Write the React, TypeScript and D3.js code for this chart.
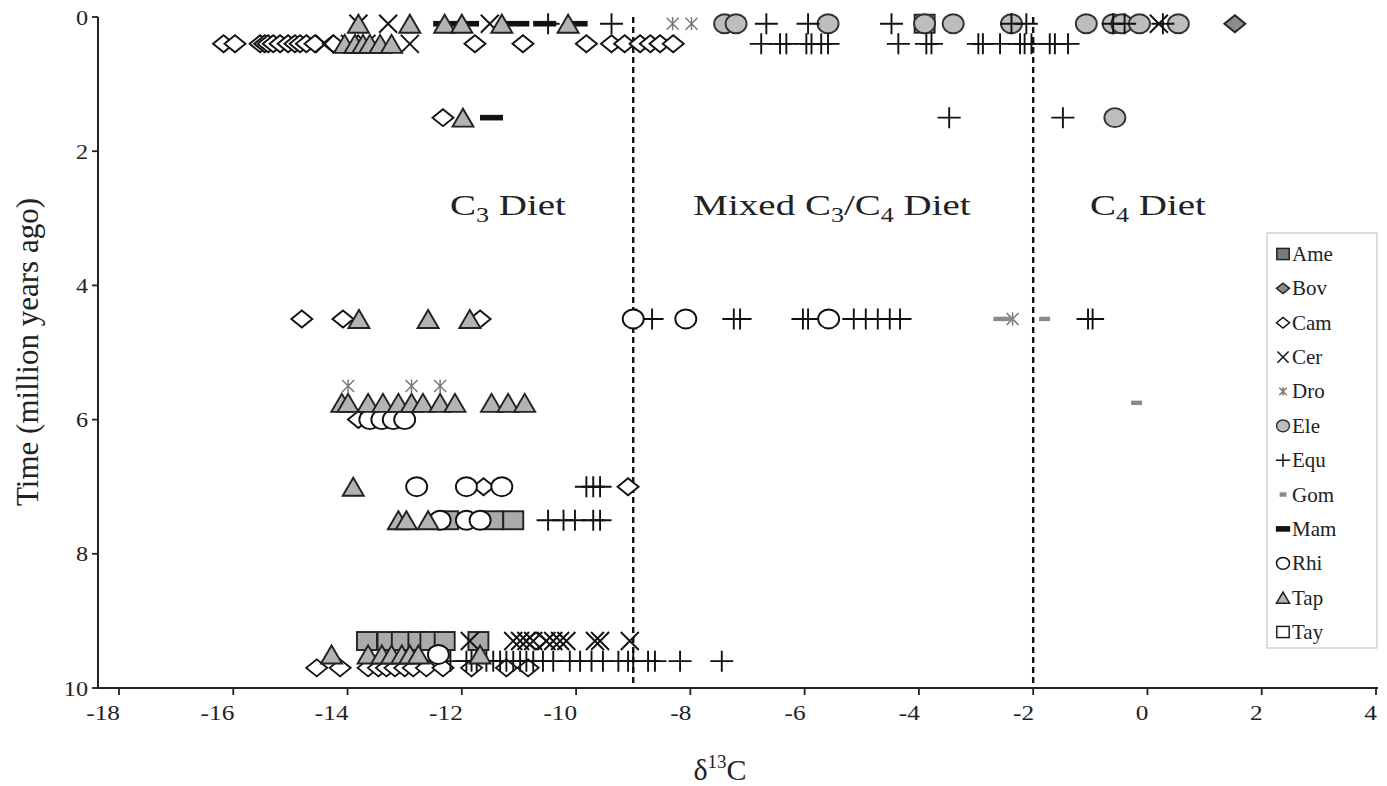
import React from "react";
import * as d3 from "d3";

type Pt = [number, number];

const seriesNames = ["Ame", "Bov", "Cam", "Cer", "Dro", "Ele", "Equ", "Gom", "Mam", "Rhi", "Tap", "Tay"];

const ame: Pt[] = [
  [-3.9, 0.1],
  [-12.24, 7.5], [-11.45, 7.5], [-11.1, 7.5],
  [-13.66, 9.3], [-13.3, 9.3], [-13.05, 9.3], [-12.76, 9.3], [-12.55, 9.3], [-12.3, 9.3], [-11.71, 9.3],
];
const bov: Pt[] = [[1.53, 0.1]];
const cam: Pt[] = [
  [-16.17, 0.4], [-15.97, 0.4], [-15.53, 0.4], [-15.45, 0.4], [-15.39, 0.4], [-15.3, 0.4], [-15.18, 0.4],
  [-15.04, 0.4], [-14.92, 0.4], [-14.83, 0.4], [-14.72, 0.4], [-14.57, 0.4], [-14.25, 0.4], [-11.77, 0.4],
  [-10.93, 0.4], [-9.82, 0.4], [-9.38, 0.4], [-9.15, 0.4], [-8.88, 0.4], [-8.7, 0.4], [-8.53, 0.4], [-8.3, 0.4],
  [-12.33, 1.5],
  [-14.8, 4.5], [-14.08, 4.5], [-11.68, 4.5],
  [-13.81, 6.0],
  [-11.62, 7.0], [-9.09, 7.0],
  [-10.7, 9.3],
  [-14.54, 9.7], [-14.13, 9.7], [-13.64, 9.7], [-13.46, 9.7], [-13.32, 9.7], [-13.17, 9.7], [-13.0, 9.7],
  [-12.85, 9.7], [-12.62, 9.7], [-12.33, 9.7], [-11.83, 9.7], [-11.22, 9.7], [-10.84, 9.7],
];
const cer: Pt[] = [
  [-13.81, 0.1], [-13.29, 0.1], [-11.51, 0.1], [0.2, 0.1],
  [-14.4, 0.4], [-13.96, 0.4], [-13.67, 0.4], [-12.91, 0.4],
  [-11.86, 9.3], [-11.1, 9.3], [-10.98, 9.3], [-10.87, 9.3], [-10.75, 9.3], [-10.52, 9.3], [-10.4, 9.3],
  [-10.28, 9.3], [-10.17, 9.3], [-9.67, 9.3], [-9.58, 9.3], [-9.06, 9.3],
];
const dro: Pt[] = [
  [-8.31, 0.1], [-7.98, 0.1],
  [-2.36, 4.5],
  [-13.99, 5.5], [-12.88, 5.5], [-12.38, 5.5],
];
const ele: Pt[] = [
  [-7.4, 0.1], [-7.2, 0.1], [-5.59, 0.1], [-3.9, 0.1], [-3.4, 0.1], [-2.38, 0.1], [-1.07, 0.1],
  [-0.6, 0.1], [-0.45, 0.1], [-0.14, 0.1], [0.54, 0.1],
  [-0.57, 1.5],
];
const equ: Pt[] = [
  [-10.49, 0.1], [-9.38, 0.1], [-6.67, 0.1], [-5.94, 0.1], [-4.48, 0.1], [-2.38, 0.1], [-2.12, 0.1],
  [-0.6, 0.1], [-0.4, 0.1], [0.27, 0.1],
  [-6.76, 0.4], [-6.43, 0.4], [-6.32, 0.4], [-5.97, 0.4], [-5.88, 0.4], [-5.71, 0.4], [-5.59, 0.4],
  [-4.36, 0.4], [-3.87, 0.4], [-3.78, 0.4], [-2.96, 0.4], [-2.88, 0.4], [-2.58, 0.4], [-2.23, 0.4],
  [-2.15, 0.4], [-2.03, 0.4], [-1.71, 0.4], [-1.62, 0.4], [-1.39, 0.4],
  [-3.47, 1.5], [-1.48, 1.5],
  [-8.95, 4.5], [-8.67, 4.5], [-7.24, 4.5], [-7.13, 4.5], [-6.03, 4.5], [-5.94, 4.5], [-5.14, 4.5],
  [-4.93, 4.5], [-4.72, 4.5], [-4.51, 4.5], [-4.33, 4.5], [-1.04, 4.5], [-0.96, 4.5],
  [-9.82, 7.0], [-9.7, 7.0], [-9.58, 7.0],
  [-10.49, 7.5], [-10.22, 7.5], [-10.02, 7.5], [-9.7, 7.5], [-9.58, 7.5],
  [-12.2, 9.6], [-11.92, 9.6], [-11.83, 9.6], [-11.74, 9.6], [-11.57, 9.6], [-11.45, 9.6], [-11.33, 9.6],
  [-11.22, 9.6], [-11.1, 9.6], [-10.98, 9.6], [-10.87, 9.6], [-10.75, 9.6], [-10.58, 9.6], [-10.4, 9.6],
  [-10.11, 9.6], [-9.93, 9.6], [-9.73, 9.6], [-9.53, 9.6], [-9.26, 9.6], [-9.09, 9.6], [-9.0, 9.6],
  [-8.74, 9.6], [-8.62, 9.6], [-8.18, 9.6], [-7.45, 9.6],
];
const gom: Pt[] = [[-2.6, 4.5], [-2.45, 4.5], [-1.8, 4.5], [-0.19, 5.75]];
const mam: Pt[] = [[-12.3, 0.1], [-11.9, 0.1], [-11.02, 0.1], [-10.55, 0.1], [-10.0, 0.1], [-11.48, 1.5]];
const rhi: Pt[] = [
  [-9.0, 4.5], [-8.08, 4.5], [-5.58, 4.5],
  [-13.61, 6.0], [-13.4, 6.0], [-13.2, 6.0], [-13.0, 6.0],
  [-12.79, 7.0], [-11.92, 7.0], [-11.3, 7.0],
  [-12.38, 7.5], [-11.92, 7.5], [-11.68, 7.5],
  [-12.41, 9.5],
];
const tap: Pt[] = [
  [-13.81, 0.1], [-12.91, 0.1], [-12.3, 0.1], [-12.0, 0.1], [-11.3, 0.1], [-10.14, 0.1],
  [-14.05, 0.4], [-13.87, 0.4], [-13.73, 0.4], [-13.61, 0.4], [-13.43, 0.4], [-13.23, 0.4],
  [-11.98, 1.5],
  [-13.8, 4.5], [-12.59, 4.5], [-11.86, 4.5],
  [-14.1, 5.75], [-13.99, 5.75], [-13.64, 5.75], [-13.38, 5.75], [-13.11, 5.75], [-12.88, 5.75],
  [-12.68, 5.75], [-12.38, 5.75], [-12.12, 5.75], [-11.48, 5.75], [-11.19, 5.75], [-10.9, 5.75],
  [-13.9, 7.0],
  [-13.11, 7.5], [-12.97, 7.5], [-12.59, 7.5],
  [-14.28, 9.5], [-13.64, 9.5], [-13.4, 9.5], [-13.23, 9.5], [-13.05, 9.5], [-12.91, 9.5], [-12.76, 9.5], [-11.68, 9.5],
];
const tay: Pt[] = [];

const xTicks = [-18, -16, -14, -12, -10, -8, -6, -4, -2, 0, 2, 4];
const yTicks = [0, 2, 4, 6, 8, 10];
const dietBounds = [-9, -2];

const GREY = "#b3b3b3";
const FONT = "'Liberation Serif', 'DejaVu Serif', serif";

function Marker({ kind, cx, cy, s = 1 }: { kind: string; cx: number; cy: number; s?: number }) {
  const sw = s < 1 ? 1.5 : 1.9;
  switch (kind) {
    case "Ame": {
      const w = 20 * s, h = 18 * s;
      return <rect x={cx - w / 2} y={cy - h / 2} width={w} height={h} fill={s < 1 ? "#7a7a7a" : "#aaa"} stroke="#222" strokeWidth={sw} />;
    }
    case "Bov": {
      const w = 10.5 * s, h = 8.5 * s;
      return <path d={`M${cx - w},${cy}L${cx},${cy - h}L${cx + w},${cy}L${cx},${cy + h}Z`} fill="#8c8c8c" stroke="#222" strokeWidth={sw} />;
    }
    case "Cam": {
      const w = 10.5 * s, h = 8.5 * s;
      return <path d={`M${cx - w},${cy}L${cx},${cy - h}L${cx + w},${cy}L${cx},${cy + h}Z`} fill="#fff" stroke="#111" strokeWidth={sw} />;
    }
    case "Cer": {
      const r = 9 * s;
      return <path d={`M${cx - r},${cy - r}L${cx + r},${cy + r}M${cx - r},${cy + r}L${cx + r},${cy - r}`} stroke="#111" strokeWidth={sw} fill="none" />;
    }
    case "Dro": {
      const r = 6 * s;
      return <path d={`M${cx - r},${cy - r}L${cx + r},${cy + r}M${cx - r},${cy + r}L${cx + r},${cy - r}M${cx},${cy - r * 1.1}L${cx},${cy + r * 1.1}`} stroke="#7a7a7a" strokeWidth={1.5} fill="none" />;
    }
    case "Ele":
      return <ellipse cx={cx} cy={cy} rx={10.5 * s} ry={9.5 * s} fill="#bdbdbd" stroke="#333" strokeWidth={sw} />;
    case "Equ": {
      const r = 11.5 * s, v = 10.5 * s;
      return <path d={`M${cx - r},${cy}L${cx + r},${cy}M${cx},${cy - v}L${cx},${cy + v}`} stroke="#111" strokeWidth={sw} fill="none" />;
    }
    case "Gom":
      return <rect x={cx - 5.5 * s} y={cy - 2.2} width={11 * s} height={4.4} fill="#8a8a8a" />;
    case "Mam":
      return <rect x={cx - 11.5 * s} y={cy - 2.8} width={23 * s} height={5.6} fill="#111" />;
    case "Rhi":
      return <ellipse cx={cx} cy={cy} rx={10.5 * s} ry={9.5 * s} fill="#fff" stroke="#111" strokeWidth={sw} />;
    case "Tap": {
      const w = 10.5 * s, h = 18 * s;
      return <path d={`M${cx - w},${cy + h / 2}L${cx},${cy - h / 2}L${cx + w},${cy + h / 2}Z`} fill={GREY} stroke="#222" strokeWidth={sw} />;
    }
    case "Tay": {
      const w = 20 * s, h = 18 * s;
      return <rect x={cx - w / 2} y={cy - h / 2} width={w} height={h} fill="#fff" stroke="#222" strokeWidth={sw} />;
    }
  }
  return null;
}

export default function App() {
  const W = 1387, H = 786;
  const x = d3.scaleLinear().domain([-18, 4]).range([119, 1376]);
  const y = d3.scaleLinear().domain([0, 10]).range([17, 688]);
  const axisLeft = 98, axisRight = 1378;

  const series: [string, Pt[]][] = [
    ["Ame", ame], ["Bov", bov], ["Cam", cam], ["Cer", cer], ["Dro", dro], ["Ele", ele],
    ["Equ", equ], ["Gom", gom], ["Mam", mam], ["Rhi", rhi], ["Tap", tap], ["Tay", tay],
  ];

  const legendY = d3.scaleLinear().domain([0, seriesNames.length - 1]).range([254, 632]);

  return (
    <svg width={W} height={H} style={{ position: "absolute", left: 0, top: 0, background: "#fff" }} fontFamily={FONT}>
      <rect x={0} y={0} width={W} height={H} fill="#fff" />
      {dietBounds.map((b) => (
        <line key={b} x1={x(b)} x2={x(b)} y1={y(0)} y2={y(10)} stroke="#111" strokeWidth={2.4} strokeDasharray="6,4" />
      ))}
      <g transform="translate(508,215) scale(1.3,1)">
        <text x={0} y={0} fontSize={30} textAnchor="middle" fill="#222">
          C<tspan fontSize={20} dy={7}>3</tspan><tspan dy={-7}> Diet</tspan>
        </text>
      </g>
      <g transform="translate(832,215) scale(1.3,1)">
        <text x={0} y={0} fontSize={30} textAnchor="middle" fill="#222">
          Mixed C<tspan fontSize={20} dy={7}>3</tspan><tspan dy={-7}>/C</tspan><tspan fontSize={20} dy={7}>4</tspan><tspan dy={-7}> Diet</tspan>
        </text>
      </g>
      <g transform="translate(1148,215) scale(1.3,1)">
        <text x={0} y={0} fontSize={30} textAnchor="middle" fill="#222">
          C<tspan fontSize={20} dy={7}>4</tspan><tspan dy={-7}> Diet</tspan>
        </text>
      </g>

      {series.map(([name, pts]) => (
        <g key={name}>
          {pts.map((p, i) => (
            <Marker key={i} kind={name} cx={x(p[0])} cy={y(p[1])} />
          ))}
        </g>
      ))}

      <line x1={axisLeft} x2={axisRight} y1={y(10)} y2={y(10)} stroke="#222" strokeWidth={2} />
      <line x1={axisLeft} x2={axisLeft} y1={y(0)} y2={y(10)} stroke="#222" strokeWidth={2} />
      {xTicks.map((t) => (
        <g key={t}>
          <line x1={x(t)} x2={x(t)} y1={y(10)} y2={y(10) + 7} stroke="#222" strokeWidth={1.8} />
          <g transform={`translate(${x(t) + 1},720) scale(1.15,1)`}>
            <text x={0} y={0} fontSize={22} textAnchor="end" fill="#222">{t}</text>
          </g>
        </g>
      ))}
      {yTicks.map((t) => (
        <g key={t}>
          <line x1={axisLeft - 6} x2={axisLeft} y1={y(t)} y2={y(t)} stroke="#222" strokeWidth={1.8} />
          <g transform={`translate(88,${y(t) + 7.5}) scale(1.1,1)`}>
            <text x={0} y={0} fontSize={22} textAnchor="end" fill="#222">{t}</text>
          </g>
        </g>
      ))}
      <text transform="translate(38,352) rotate(-90)" fontSize={31} textAnchor="middle" fill="#222">Time (million years ago)</text>
      <text x={720} y={780} fontSize={30} textAnchor="middle" fill="#222">
        δ<tspan fontSize={19} dy={-12}>13</tspan><tspan dy={12}>C</tspan>
      </text>

      <rect x={1267} y={233} width={110} height={415} fill="#fff" stroke="#bbb" strokeWidth={1} />
      {seriesNames.map((n, i) => (
        <g key={n}>
          <Marker kind={n} cx={1283} cy={legendY(i)} s={0.62} />
          <text x={1292} y={legendY(i) + 7} fontSize={21} fill="#222">{n}</text>
        </g>
      ))}
    </svg>
  );
}
